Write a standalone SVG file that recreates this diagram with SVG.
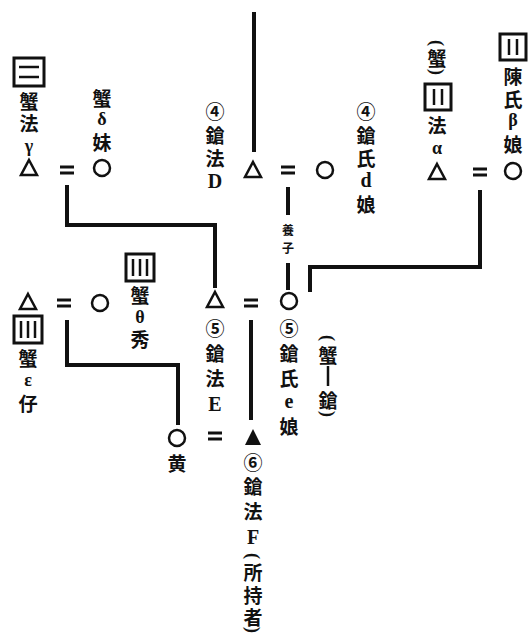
<svg xmlns="http://www.w3.org/2000/svg" width="529" height="637" viewBox="0 0 529 637">
<style>
.k{font-family:"Noto Sans CJK JP","Noto Sans CJK SC",sans-serif;font-weight:700;font-size:19px;text-anchor:middle;dominant-baseline:central;fill:#111}
.s{font-size:12px}
.l{font-family:"Liberation Serif",serif;font-weight:700;font-size:20px;text-anchor:middle;dominant-baseline:central;fill:#111}
.g{font-family:"Liberation Serif",serif;font-weight:700;font-size:18px;text-anchor:middle;dominant-baseline:central;fill:#111}
.p{font-family:"Liberation Serif",serif;font-weight:700;font-size:18px;text-anchor:middle;dominant-baseline:central;fill:#111}
.c{font-size:19px}
.ln{fill:none;stroke:#111;stroke-width:4}
.sym{fill:none;stroke:#111;stroke-width:2.5}
.eq{stroke:#111;stroke-width:3}
.box{fill:none;stroke:#111;stroke-width:3}
.bl{stroke:#111;stroke-width:2.5}
</style>
<defs>
<polygon id="tri" points="0,-8 8,7 -8,7" class="sym"/>
<circle id="cir" r="8" class="sym"/>
<g id="eq"><line x1="-7" y1="-3" x2="7" y2="-3" class="eq"/><line x1="-7" y1="3" x2="7" y2="3" class="eq"/></g>
</defs>

<g id="connectors">
<line x1="254" y1="12" x2="254" y2="152" class="ln"/>
<polyline points="67,185 67,225 215,225 215,288" class="ln"/>
<line x1="288" y1="187" x2="288" y2="215" class="ln"/>
<line x1="288" y1="263" x2="288" y2="290" class="ln"/>
<text x="288" y="229" class="k s">養</text>
<text x="288" y="247" class="k s">子</text>
<polyline points="480,190 480,267 310,267 310,292" class="ln"/>
<polyline points="67,320 67,365 178,365 178,425" class="ln"/>
<line x1="251" y1="320" x2="251" y2="420" class="ln"/>
<use href="#eq" x="67" y="170"/>
<use href="#eq" x="288" y="170"/>
<use href="#eq" x="480" y="172"/>
<use href="#eq" x="64" y="303"/>
<use href="#eq" x="251" y="303"/>
<use href="#eq" x="215" y="436"/>
</g>

<g id="gamma">
<rect x="14" y="58" width="30" height="28" class="box"/>
<line x1="19" y1="67" x2="39" y2="67" class="bl"/>
<line x1="19" y1="77" x2="39" y2="77" class="bl"/>
<text x="29" y="100" class="k">蟹</text>
<text x="29" y="122" class="k">法</text>
<text x="29" y="146" class="g">γ</text>
<use href="#tri" x="29" y="168"/>
</g>

<g id="delta">
<text x="102" y="97" class="k">蟹</text>
<text x="102" y="119" class="g">δ</text>
<text x="102" y="141" class="k">妹</text>
<use href="#cir" x="102" y="168"/>
</g>

<g id="D">
<text x="215" y="110" class="k c">④</text>
<text x="215" y="134" class="k">鎗</text>
<text x="215" y="157" class="k">法</text>
<text x="215" y="181" class="l">D</text>
<use href="#tri" x="253" y="170"/>
</g>

<g id="d">
<use href="#cir" x="325" y="170"/>
<text x="366" y="110" class="k c">④</text>
<text x="366" y="134" class="k">鎗</text>
<text x="366" y="157" class="k">氏</text>
<text x="366" y="180" class="l">d</text>
<text x="366" y="203" class="k">娘</text>
</g>

<g id="alpha">
<text class="p" transform="translate(437,43) rotate(90)">(</text>
<text x="437" y="57" class="k">蟹</text>
<text class="p" transform="translate(437,72) rotate(90)">)</text>
<rect x="425" y="84" width="26" height="26" class="box"/>
<line x1="434" y1="89" x2="434" y2="105" class="bl"/>
<line x1="442" y1="89" x2="442" y2="105" class="bl"/>
<text x="437" y="124" class="k">法</text>
<text x="437" y="148" class="g">α</text>
<use href="#tri" x="437" y="172"/>
</g>

<g id="beta">
<rect x="500" y="34" width="26" height="26" class="box"/>
<line x1="509" y1="39" x2="509" y2="55" class="bl"/>
<line x1="517" y1="39" x2="517" y2="55" class="bl"/>
<text x="513" y="75" class="k">陳</text>
<text x="513" y="98" class="k">氏</text>
<text x="513" y="120" class="g">β</text>
<text x="513" y="143" class="k">娘</text>
<use href="#cir" x="513" y="171"/>
</g>

<g id="epsilon">
<use href="#tri" x="28" y="302"/>
<rect x="14" y="316" width="28" height="27" class="box"/>
<line x1="21" y1="321" x2="21" y2="338" class="bl"/>
<line x1="28" y1="321" x2="28" y2="338" class="bl"/>
<line x1="35" y1="321" x2="35" y2="338" class="bl"/>
<text x="28" y="357" class="k">蟹</text>
<text x="28" y="380" class="g">ε</text>
<text x="28" y="402" class="k">仔</text>
</g>

<g id="theta">
<use href="#cir" x="100" y="303"/>
<rect x="126" y="254" width="28" height="27" class="box"/>
<line x1="133" y1="259" x2="133" y2="276" class="bl"/>
<line x1="140" y1="259" x2="140" y2="276" class="bl"/>
<line x1="147" y1="259" x2="147" y2="276" class="bl"/>
<text x="140" y="294" class="k">蟹</text>
<text x="140" y="317" class="g">θ</text>
<text x="140" y="338" class="k">秀</text>
</g>

<g id="E">
<use href="#tri" x="215" y="300"/>
<text x="215" y="327" class="k c">⑤</text>
<text x="215" y="352" class="k">鎗</text>
<text x="215" y="377" class="k">法</text>
<text x="215" y="404" class="l">E</text>
</g>

<g id="e">
<use href="#cir" x="289" y="301"/>
<text x="289" y="327" class="k c">⑤</text>
<text x="289" y="352" class="k">鎗</text>
<text x="289" y="377" class="k">氏</text>
<text x="289" y="401" class="l">e</text>
<text x="289" y="425" class="k">娘</text>
<text class="p" transform="translate(328,338) rotate(90)">(</text>
<text x="328" y="354" class="k">蟹</text>
<line x1="328" y1="366" x2="328" y2="386" class="bl"/>
<text x="328" y="399" class="k">鎗</text>
<text class="p" transform="translate(328,414) rotate(90)">)</text>
</g>

<g id="huang">
<use href="#cir" x="177" y="438"/>
<text x="177" y="462" class="k">黄</text>
</g>

<g id="F">
<polygon points="253,429 261,445 245,445" fill="#111"/>
<text x="253" y="461" class="k c">⑥</text>
<text x="253" y="485" class="k">鎗</text>
<text x="253" y="510" class="k">法</text>
<text x="253" y="537" class="l">F</text>
<text class="p" transform="translate(253,556) rotate(90)">(</text>
<text x="253" y="571" class="k">所</text>
<text x="253" y="594" class="k">持</text>
<text x="253" y="616" class="k">者</text>
<text class="p" transform="translate(253,630) rotate(90)">)</text>
</g>
</svg>
